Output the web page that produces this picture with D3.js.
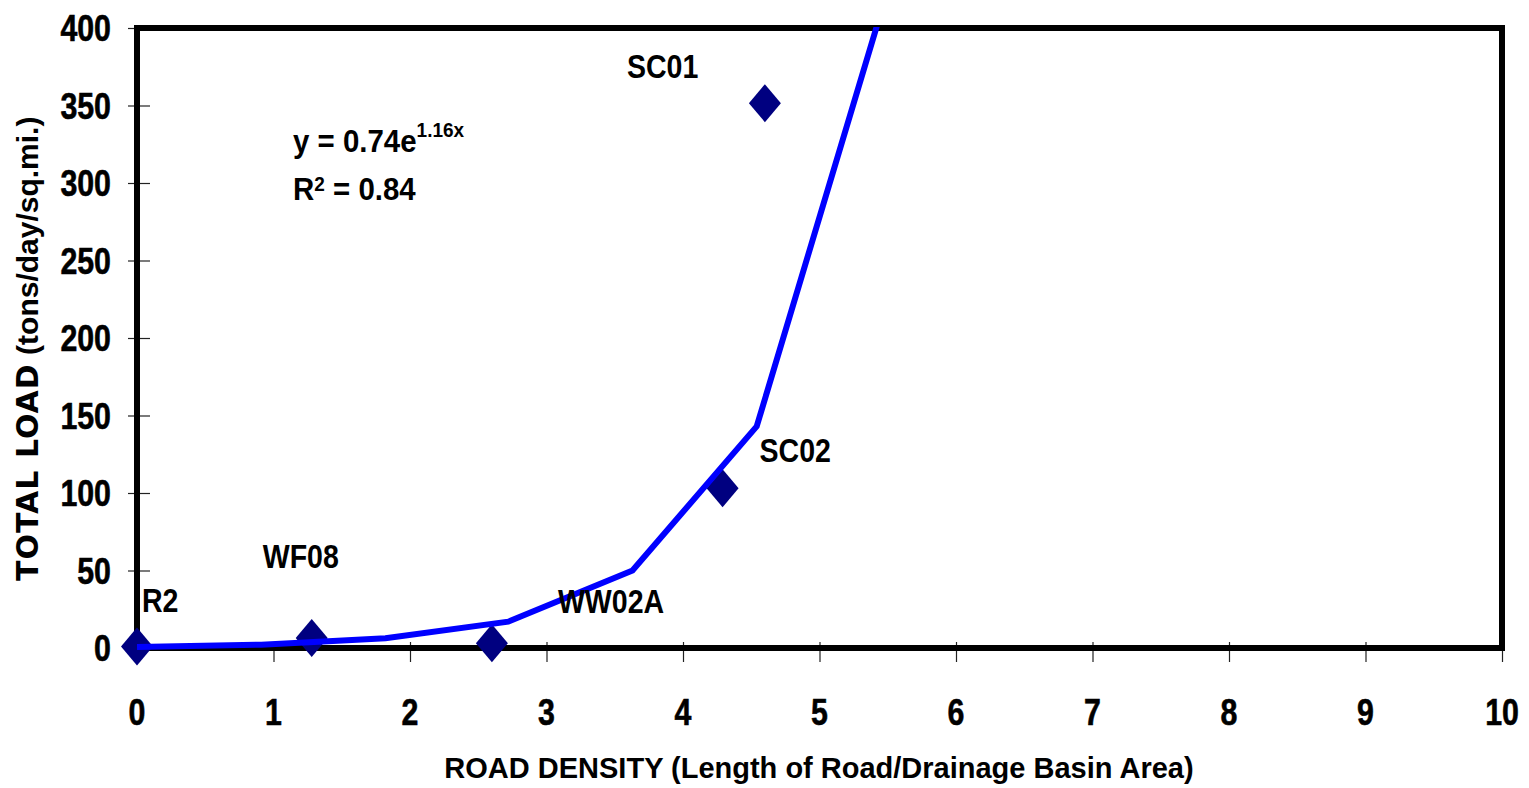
<!DOCTYPE html>
<html>
<head>
<meta charset="utf-8">
<script src="https://cdn.jsdelivr.net/npm/d3@7"></script>
<style>
  html, body { margin: 0; padding: 0; background: #fff; }
  svg { display: block; }
</style>
</head>
<body>
<svg id="chart" width="1529" height="788"></svg>
<script>
// Sampling sites: road density vs. total sediment load
const siteNames = ["R2", "WF08", "WW02A", "SC02", "SC01"];
const siteDensity = [0, 1.28, 2.6, 4.29, 4.6];
const siteLoad = [1, 6.5, 3, 103, 351.5];

// Exponential trend line vertices (y = 0.74e^1.16x)
const trendDensity = [0, 0.91, 1.82, 2.72, 3.63, 4.54, 5.45];
const trendLoad = [0.7, 2.1, 6.3, 17, 50, 143, 410];

const xTicks = [0, 1, 2, 3, 4, 5, 6, 7, 8, 9, 10];
const yTicks = [0, 50, 100, 150, 200, 250, 300, 350, 400];

const equationText = "y = 0.74e";
const equationExp = "1.16x";
const r2Value = " = 0.84";
const xTitle = "ROAD DENSITY (Length of Road/Drainage Basin Area)";
const yTitleCaps = "TOTAL LOAD";
const yTitleUnits = " (tons/day/sq.mi.)";

// Label placement relative to each marker, in pixels
const labelOffsets = [[5, -34], [-49, -70], [66, -30], [37, -26], [-138, -25]];

const svg = d3.select("#chart");
const plot = { left: 137, right: 1502, top: 28, bottom: 648 };

const x = d3.scaleLinear().domain([0, 10]).range([plot.left, plot.right]);
const y = d3.scaleLinear().domain([0, 400]).range([plot.bottom, plot.top]);

const boldSans = "'Liberation Sans', Arial, sans-serif";
const condense = 0.82; // horizontal squeeze for the condensed bold lettering

svg.append("rect").attr("width", 1529).attr("height", 788).attr("fill", "#fff");

// Tick marks crossing the frame
const xAxis = d3.axisBottom(x).tickValues(xTicks).tickSize(14).tickFormat("");
svg.append("g")
  .attr("transform", `translate(0,${plot.bottom})`)
  .call(xAxis)
  .call(g => g.select(".domain").remove())
  .call(g => g.selectAll(".tick line").attr("y1", -6).attr("stroke", "#222").attr("stroke-width", 1.2));

const yAxis = d3.axisLeft(y).tickValues(yTicks).tickSize(9).tickFormat("");
svg.append("g")
  .attr("transform", `translate(${plot.left},0)`)
  .call(yAxis)
  .call(g => g.select(".domain").remove())
  .call(g => g.selectAll(".tick line").attr("x1", 13).attr("stroke", "#222").attr("stroke-width", 1.2));

// Tick labels
svg.append("g").selectAll("text").data(xTicks).join("text")
  .attr("transform", d => `translate(${x(d)},725) scale(${condense},1)`)
  .attr("text-anchor", "middle")
  .attr("font-family", boldSans).attr("font-weight", "bold").attr("font-size", 37)
  .attr("stroke", "#000").attr("stroke-width", 0.6)
  .text(d => d);

svg.append("g").selectAll("text").data(yTicks).join("text")
  .attr("transform", d => `translate(111,${y(d) + 13}) scale(${condense},1)`)
  .attr("text-anchor", "end")
  .attr("font-family", boldSans).attr("font-weight", "bold").attr("font-size", 37)
  .attr("stroke", "#000").attr("stroke-width", 0.6)
  .text(d => d);

// Plot frame
svg.append("rect")
  .attr("x", plot.left).attr("y", plot.top)
  .attr("width", plot.right - plot.left).attr("height", plot.bottom - plot.top)
  .attr("fill", "none").attr("stroke", "#000").attr("stroke-width", 6);

// Diamond markers
const diamond = {
  draw(ctx, size) {
    const w = 16, h = 19;
    ctx.moveTo(0, -h); ctx.lineTo(w, 0); ctx.lineTo(0, h); ctx.lineTo(-w, 0); ctx.closePath();
  }
};
const sites = siteNames.map((n, i) => ({ name: n, dx: siteDensity[i], load: siteLoad[i], off: labelOffsets[i] }));

svg.append("g").selectAll("path").data(sites).join("path")
  .attr("transform", d => `translate(${x(d.dx)},${y(d.load)})`)
  .attr("d", d3.symbol().type(diamond))
  .attr("fill", "#000080");

// Trend line, clipped to the plot area
svg.append("clipPath").attr("id", "plotClip")
  .append("rect").attr("x", plot.left).attr("y", plot.top - 1)
  .attr("width", plot.right - plot.left).attr("height", plot.bottom - plot.top + 10);

const trend = trendDensity.map((d, i) => [d, trendLoad[i]]);
svg.append("path")
  .datum(trend)
  .attr("clip-path", "url(#plotClip)")
  .attr("d", d3.line().x(d => x(d[0])).y(d => y(d[1])))
  .attr("fill", "none").attr("stroke", "#0000ff").attr("stroke-width", 6)
  .attr("stroke-linejoin", "miter");

// Site labels
svg.append("g").selectAll("text").data(sites).join("text")
  .attr("transform", d => `translate(${x(d.dx) + d.off[0]},${y(d.load) + d.off[1]}) scale(0.84,1)`)
  .attr("font-family", boldSans).attr("font-weight", "bold").attr("font-size", 34)
  .text(d => d.name);

// Regression equation
const eq = svg.append("text")
  .attr("transform", "translate(293,152) scale(0.95,1)")
  .attr("font-family", boldSans).attr("font-weight", "bold").attr("font-size", 31);
eq.append("tspan").text(equationText);
eq.append("tspan").attr("dy", -15).attr("font-size", 20).text(equationExp);

const r2 = svg.append("text")
  .attr("transform", "translate(293,200) scale(0.95,1)")
  .attr("font-family", boldSans).attr("font-weight", "bold").attr("font-size", 31);
r2.append("tspan").text("R");
r2.append("tspan").attr("dy", -9).attr("font-size", 20).text("2");
r2.append("tspan").attr("dy", 9).text(r2Value);

// Axis titles
svg.append("text")
  .attr("x", 819).attr("y", 778)
  .attr("text-anchor", "middle")
  .attr("font-family", boldSans).attr("font-weight", "bold").attr("font-size", 29)
  .text(xTitle);

const yt = svg.append("text")
  .attr("transform", "translate(38,581) rotate(-90)")
  .attr("font-weight", "bold").attr("font-size", 30);
yt.append("tspan").attr("font-family", "'DejaVu Sans', Verdana, sans-serif").attr("letter-spacing", 1).text(yTitleCaps);
yt.append("tspan").attr("font-family", boldSans).text(yTitleUnits);
</script>
</body>
</html>
